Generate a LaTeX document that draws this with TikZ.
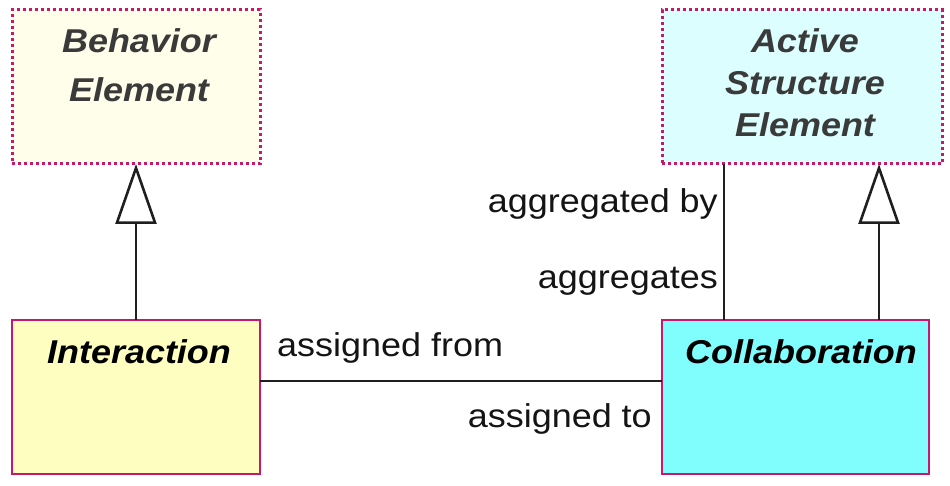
\documentclass[tikz,border=0pt]{standalone}
\usepackage{fontspec}
\setmainfont{Liberation Sans}
\newfontfamily\headfont[FakeStretch=1.09,BoldItalicFont={Liberation Sans Bold Italic}]{Liberation Sans}
\newfontfamily\labfont[FakeStretch=1.09]{Liberation Sans}
\usetikzlibrary{arrows.meta,calc}
\definecolor{bord}{HTML}{C8186E}
\definecolor{behfill}{HTML}{FEFEEA}
\definecolor{actfill}{HTML}{DCFEFE}
\definecolor{intfill}{HTML}{FEFEC0}
\definecolor{colfill}{HTML}{80FEFE}
\definecolor{headgrey}{HTML}{3A3A3A}
\tikzset{
  abstractbox/.style={draw=bord, line width=3pt, dash pattern=on 3pt off 3pt, inner sep=0pt, outer sep=0pt},
  concretebox/.style={draw=bord, line width=2.6pt, inner sep=0pt, outer sep=0pt},
  headtxt/.style={font=\headfont\bfseries\itshape\fontsize{33}{40}\selectfont, text=headgrey, inner sep=0pt, anchor=base},
  nametxt/.style={font=\headfont\bfseries\itshape\fontsize{33}{40}\selectfont, text=black, inner sep=0pt, anchor=base},
  labtxt/.style={font=\labfont\fontsize{33}{40}\selectfont, text=black!92, inner sep=0pt},
  conn/.style={draw=black!88, line width=2.6pt},
  gen/.style={conn, -{Triangle[open, length=60pt, width=41pt, fill=white]}},
}
\begin{document}
\begin{tikzpicture}[x=1pt,y=-1pt]
\useasboundingbox (0,0) rectangle (950,486);
% boxes
\node[abstractbox, fill=behfill, minimum width=248pt, minimum height=154pt] (beh) at (136,87) {};
\node[abstractbox, fill=actfill, minimum width=280pt, minimum height=154pt] (act) at (802,87) {};
\node[concretebox, fill=intfill, minimum width=248pt, minimum height=154pt] (inter) at (136,397) {};
\node[concretebox, fill=colfill, minimum width=267pt, minimum height=154pt] (collab) at (795.5,397) {};
% box texts
\node[headtxt] (beh1) at (139,53) {Behavior};
\node[headtxt] (beh2) at (139,102) {Element};
\node[headtxt] (act1) at (805,53) {Active};
\node[headtxt] (act2) at (805,95) {Structure};
\node[headtxt] (act3) at (805,137) {Element};
\node[nametxt] (int1) at (139,363) {Interaction};
\node[nametxt] (col1) at (801,363) {Collaboration};
% connectors
\coordinate (ay) at (0,381);
\draw[conn] (inter.east |- ay) -- (collab.west |- ay);
\draw[conn] ([xshift=62pt]collab.north west) -- ([xshift=62pt]act.south west);
\draw[gen] (inter.north) -- (beh.south);
\draw[gen] ([xshift=-50pt]collab.north east) -- ([xshift=-63pt]act.south east);
% labels
\node[labtxt, anchor=base east] (lab1) at (718,213) {aggregated by};
\node[labtxt, anchor=base east] (lab2) at (718,288) {aggregates};
\node[labtxt, anchor=base west] (lab3) at (277,356) {assigned from};
\node[labtxt, anchor=base east] (lab4) at (652,427) {assigned to};
\end{tikzpicture}
\end{document}
